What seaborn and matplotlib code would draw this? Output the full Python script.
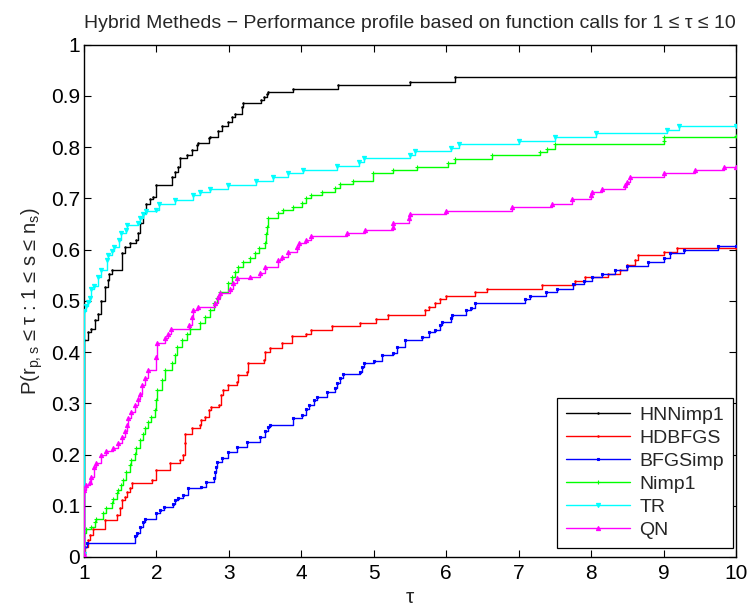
import matplotlib
matplotlib.use("Agg")
import matplotlib.pyplot as plt
import seaborn as sns
import pandas as pd

# Performance-profile breakpoints (tau, fraction of problems solved) per solver
hnnimp1_steps = [
    (1.00, 0.006), (1.00, 0.423), (1.05, 0.440), (1.10, 0.445), (1.15, 0.462), (1.19, 0.475),
    (1.24, 0.500), (1.29, 0.527), (1.33, 0.540), (1.35, 0.553), (1.38, 0.560), (1.52, 0.593),
    (1.56, 0.605), (1.63, 0.612), (1.72, 0.618), (1.75, 0.632), (1.77, 0.652), (1.81, 0.671),
    (1.86, 0.690), (1.91, 0.698), (1.95, 0.703), (2.00, 0.726), (2.21, 0.742), (2.25, 0.752),
    (2.30, 0.762), (2.32, 0.778), (2.42, 0.784), (2.49, 0.794), (2.56, 0.804), (2.58, 0.808),
    (2.72, 0.817), (2.74, 0.820), (2.85, 0.832), (2.90, 0.841), (2.99, 0.849), (3.04, 0.859),
    (3.08, 0.864), (3.18, 0.878), (3.20, 0.886), (3.45, 0.892), (3.48, 0.898), (3.52, 0.903),
    (3.54, 0.907), (3.89, 0.914), (4.50, 0.921), (5.50, 0.927), (6.12, 0.936), (10.0, 0.936),
]
hdbfgs_steps = [
    (1.00, 0.006), (1.01, 0.020), (1.05, 0.033), (1.08, 0.043), (1.13, 0.054), (1.29, 0.072),
    (1.45, 0.082), (1.50, 0.095), (1.52, 0.111), (1.57, 0.118), (1.59, 0.127), (1.64, 0.134),
    (1.66, 0.144), (1.94, 0.150), (2.00, 0.170), (2.19, 0.184), (2.33, 0.189), (2.37, 0.199),
    (2.39, 0.222), (2.40, 0.241), (2.49, 0.251), (2.60, 0.258), (2.62, 0.267), (2.67, 0.274),
    (2.72, 0.287), (2.76, 0.293), (2.87, 0.297), (2.89, 0.316), (2.92, 0.326), (2.99, 0.336),
    (3.11, 0.342), (3.13, 0.355), (3.25, 0.362), (3.27, 0.378), (3.48, 0.384), (3.50, 0.401),
    (3.57, 0.407), (3.73, 0.417), (3.87, 0.431), (4.07, 0.436), (4.13, 0.444), (4.43, 0.451),
    (4.81, 0.457), (5.03, 0.464), (5.19, 0.472), (5.71, 0.482), (5.76, 0.488), (5.85, 0.495),
    (5.91, 0.503), (6.00, 0.509), (6.40, 0.518), (6.56, 0.524), (7.32, 0.531), (7.78, 0.539),
    (7.92, 0.546), (8.24, 0.553), (8.40, 0.561), (8.49, 0.570), (8.60, 0.580), (8.65, 0.589),
    (9.00, 0.596), (9.19, 0.603), (10.0, 0.603),
]
bfgsimp_steps = [
    (1.00, 0.005), (1.00, 0.020), (1.04, 0.027), (1.70, 0.040), (1.73, 0.046), (1.77, 0.059),
    (1.82, 0.069), (1.84, 0.075), (2.00, 0.085), (2.05, 0.092), (2.10, 0.098), (2.23, 0.104),
    (2.26, 0.111), (2.30, 0.115), (2.37, 0.121), (2.44, 0.134), (2.62, 0.137), (2.69, 0.147),
    (2.79, 0.154), (2.81, 0.165), (2.82, 0.176), (2.83, 0.186), (2.90, 0.193), (2.99, 0.205),
    (3.11, 0.214), (3.25, 0.225), (3.43, 0.235), (3.50, 0.245), (3.54, 0.254), (3.57, 0.258),
    (3.89, 0.271), (4.01, 0.278), (4.07, 0.288), (4.10, 0.297), (4.17, 0.306), (4.21, 0.313),
    (4.35, 0.323), (4.47, 0.329), (4.49, 0.339), (4.54, 0.349), (4.58, 0.358), (4.81, 0.362),
    (4.84, 0.371), (4.87, 0.379), (5.00, 0.383), (5.11, 0.394), (5.27, 0.399), (5.32, 0.410),
    (5.43, 0.423), (5.66, 0.430), (5.76, 0.440), (5.85, 0.444), (5.92, 0.453), (5.94, 0.459),
    (6.06, 0.466), (6.08, 0.472), (6.27, 0.482), (6.34, 0.487), (6.40, 0.495), (7.09, 0.503),
    (7.15, 0.510), (7.38, 0.518), (7.53, 0.524), (7.75, 0.532), (7.90, 0.539), (8.01, 0.546),
    (8.15, 0.553), (8.33, 0.561), (8.49, 0.568), (8.79, 0.576), (9.00, 0.583), (9.09, 0.593),
    (9.28, 0.600), (9.75, 0.607), (10.0, 0.607),
]
nimp1_steps = [
    (1.00, 0.006), (1.00, 0.046), (1.03, 0.054), (1.10, 0.059), (1.15, 0.069), (1.17, 0.075),
    (1.26, 0.085), (1.31, 0.095), (1.38, 0.105), (1.40, 0.113), (1.45, 0.124), (1.47, 0.131),
    (1.51, 0.140), (1.54, 0.150), (1.58, 0.166), (1.63, 0.180), (1.65, 0.189), (1.70, 0.202),
    (1.72, 0.212), (1.77, 0.228), (1.81, 0.241), (1.84, 0.251), (1.88, 0.264), (1.93, 0.274),
    (1.98, 0.287), (2.00, 0.306), (2.01, 0.326), (2.07, 0.345), (2.12, 0.365), (2.21, 0.378),
    (2.26, 0.394), (2.28, 0.410), (2.35, 0.423), (2.42, 0.436), (2.46, 0.446), (2.60, 0.456),
    (2.67, 0.469), (2.74, 0.482), (2.79, 0.495), (2.84, 0.505), (2.88, 0.518), (2.99, 0.534),
    (3.04, 0.547), (3.08, 0.557), (3.13, 0.566), (3.20, 0.576), (3.29, 0.583), (3.36, 0.593),
    (3.41, 0.604), (3.50, 0.612), (3.51, 0.630), (3.52, 0.644), (3.54, 0.661), (3.68, 0.671),
    (3.75, 0.677), (3.89, 0.684), (4.01, 0.691), (4.07, 0.700), (4.14, 0.706), (4.28, 0.713),
    (4.47, 0.721), (4.54, 0.728), (4.72, 0.734), (4.99, 0.749), (5.26, 0.755), (5.60, 0.762),
    (6.03, 0.770), (6.12, 0.777), (6.63, 0.784), (7.30, 0.791), (7.39, 0.797), (7.50, 0.806),
    (9.00, 0.812), (9.01, 0.820), (10.0, 0.822),
]
tr_steps = [
    (1.00, 0.006), (1.00, 0.480), (1.03, 0.490), (1.05, 0.497), (1.08, 0.505), (1.10, 0.524),
    (1.14, 0.529), (1.19, 0.547), (1.24, 0.560), (1.32, 0.580), (1.33, 0.589), (1.38, 0.598),
    (1.42, 0.605), (1.49, 0.619), (1.51, 0.633), (1.58, 0.638), (1.60, 0.648), (1.75, 0.652),
    (1.77, 0.661), (1.81, 0.669), (1.86, 0.676), (2.00, 0.678), (2.03, 0.690), (2.25, 0.697),
    (2.51, 0.706), (2.60, 0.713), (2.74, 0.719), (2.99, 0.727), (3.38, 0.734), (3.61, 0.742),
    (3.82, 0.749), (4.03, 0.755), (4.49, 0.764), (4.79, 0.771), (4.86, 0.778), (5.50, 0.784),
    (5.57, 0.792), (6.06, 0.799), (6.17, 0.806), (7.00, 0.812), (7.50, 0.820), (8.07, 0.828),
    (9.05, 0.834), (9.21, 0.842), (10.0, 0.842),
]
qn_steps = [
    (1.00, 0.006), (1.00, 0.130), (1.03, 0.140), (1.08, 0.147), (1.10, 0.157), (1.14, 0.176),
    (1.17, 0.184), (1.24, 0.199), (1.31, 0.207), (1.40, 0.212), (1.47, 0.222), (1.52, 0.235),
    (1.56, 0.245), (1.60, 0.258), (1.61, 0.271), (1.65, 0.284), (1.70, 0.297), (1.75, 0.308),
    (1.77, 0.319), (1.80, 0.336), (1.84, 0.349), (1.88, 0.365), (2.00, 0.390), (2.01, 0.417),
    (2.12, 0.427), (2.16, 0.436), (2.20, 0.445), (2.45, 0.453), (2.49, 0.469), (2.51, 0.482),
    (2.58, 0.488), (2.81, 0.495), (2.85, 0.508), (2.88, 0.516), (3.01, 0.524), (3.06, 0.534),
    (3.11, 0.544), (3.29, 0.547), (3.43, 0.554), (3.50, 0.566), (3.68, 0.579), (3.73, 0.586),
    (3.82, 0.596), (3.94, 0.605), (3.97, 0.612), (4.07, 0.619), (4.14, 0.626), (4.63, 0.633),
    (4.88, 0.639), (5.26, 0.645), (5.27, 0.652), (5.48, 0.661), (5.50, 0.669), (6.00, 0.676),
    (6.91, 0.684), (7.46, 0.690), (7.73, 0.698), (8.00, 0.706), (8.01, 0.713), (8.15, 0.719),
    (8.47, 0.726), (8.49, 0.732), (8.54, 0.741), (9.00, 0.749), (9.43, 0.755), (9.83, 0.762),
    (10.0, 0.762),
]

solver_names = ["HNNimp1", "HDBFGS", "BFGSimp", "Nimp1", "TR", "QN"]
solver_steps = [hnnimp1_steps, hdbfgs_steps, bfgsimp_steps, nimp1_steps, tr_steps, qn_steps]
solver_colors = ["#000000", "#ff0000", "#0000ff", "#00ff00", "#00ffff", "#ff00ff"]
solver_markers = [".", ".", "s", "+", "v", "^"]
solver_msizes = [2.0, 2.0, 2.0, 3.5, 3.0, 3.0]

x_ticks = list(range(1, 11))
y_ticks = [i / 10 for i in range(11)]
y_tick_labels = ["0", "0.1", "0.2", "0.3", "0.4", "0.5", "0.6", "0.7", "0.8", "0.9", "1"]

sns.set_style("ticks")
plt.rcParams["font.family"] = ["Liberation Sans", "DejaVu Sans"]
plt.rcParams["mathtext.fontset"] = "custom"
plt.rcParams["mathtext.rm"] = "Liberation Sans"
plt.rcParams["mathtext.it"] = "Liberation Sans"
plt.rcParams["mathtext.default"] = "regular"

fig = plt.figure(figsize=(7.5, 6.09), dpi=100)
ax = fig.add_axes([0.112, 0.0854, 0.8693, 0.8412])

for name, steps, col, mk, ms in zip(solver_names, solver_steps, solver_colors,
                                    solver_markers, solver_msizes):
    df = pd.DataFrame(steps, columns=["tau", "p"])
    sns.lineplot(data=df, x="tau", y="p", ax=ax, color=col, marker=mk, markersize=ms,
                 markeredgewidth=0.8, markeredgecolor=col, markerfacecolor=col,
                 linewidth=1.0, drawstyle="steps-post", estimator=None, sort=False,
                 label=name, zorder=3)

ax.set_xlim(1, 10)
ax.set_ylim(0, 1)
ax.set_xticks(x_ticks)
ax.set_xticklabels([str(t) for t in x_ticks])
ax.set_yticks(y_ticks)
ax.set_yticklabels(y_tick_labels)
ax.tick_params(direction="in", top=True, right=True, length=5, width=0.8,
               labelsize=15, colors="black")
ax.tick_params(axis="y", pad=3)
ax.tick_params(axis="x", pad=5)
for sp in ax.spines.values():
    sp.set_visible(True)
    sp.set_color("black")
    sp.set_linewidth(1.0)
    sp.set_zorder(2)

ax.set_title("Hybrid Metheds \u2212 Performance profile based on function calls for 1 \u2264 \u03c4 \u2264 10",
             fontsize=14, pad=12)
ax.set_xlabel("\u03c4", fontsize=15, labelpad=4)
ax.set_ylabel("P(r$_{p,s}$ \u2264 \u03c4 : 1 \u2264 s \u2264 n$_s$)", fontsize=14.5, labelpad=4)

leg = ax.legend(loc="lower right", bbox_to_anchor=(0.9954, 0.0176), fontsize=14,
                frameon=True, fancybox=False, edgecolor="black", framealpha=1,
                handlelength=3.3, labelspacing=0.28, borderpad=0.45,
                handletextpad=0.5, borderaxespad=0.0)
leg.get_frame().set_linewidth(0.9)
leg.set_zorder(5)

fig.savefig("out.png", dpi=100)
